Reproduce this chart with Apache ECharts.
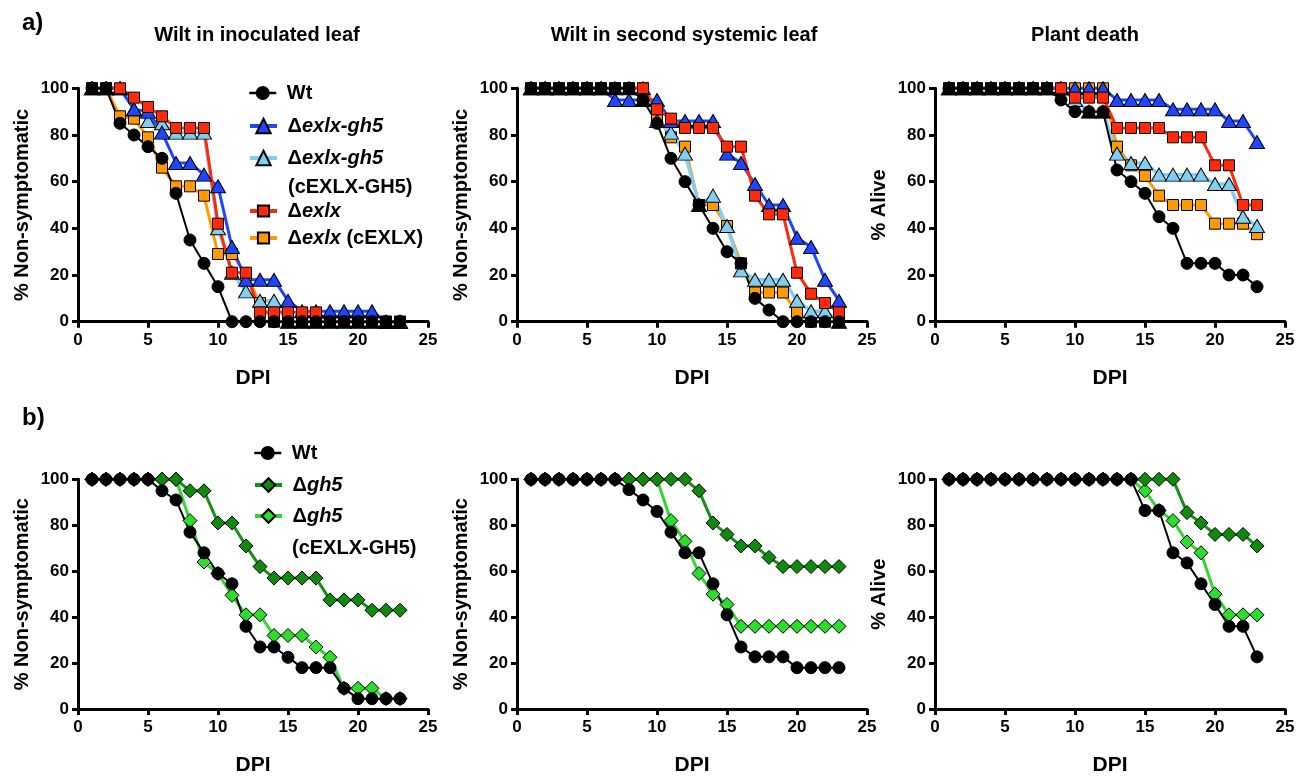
<!DOCTYPE html>
<html>
<head>
<meta charset="utf-8">
<script src="https://cdn.jsdelivr.net/npm/echarts@6/dist/echarts.min.js"></script>
<style>html,body{margin:0;padding:0;background:#fff}#c{width:1307px;height:777px}</style>
</head>
<body>
<div id="c"></div>
<script>
// ---------- DATA ----------
const days = [1,2,3,4,5,6,7,8,9,10,11,12,13,14,15,16,17,18,19,20,21,22,23];
const xTicks = [0,5,10,15,20,25];
const yTicks = [0,20,40,60,80,100];

// a) Wilt in inoculated leaf
const a1_wt      = [100,100,85,80,75,70,55,35,25,15,0,0,0,0,0,0,0,0,0,0,0,0,0];
const a1_exlxgh5 = [100,100,100,91,90,81,68,68,63,58,32,18,18,18,9,4.5,4.5,4.5,4.5,4.5,4.5,0,0];
const a1_exlxgh5c= [100,100,100,91,86,85,81,81,81,40,21,13,9,9,0,0,0,0,0,0,0,0,0];
const a1_exlx    = [100,100,100,96,92,88,83,83,83,42,21,21,4,4,4,4,4,0,0,0,0,0,0];
const a1_exlxc   = [100,100,88,87,79,66,58,58,54,29,29,20,8,0,0,0,0,0,0,0,0,0,0];
// a) Wilt in second systemic leaf
const a2_wt      = [100,100,100,100,100,100,100,100,95,85,70,60,50,40,30,25,10,5,0,0,0,0,0];
const a2_exlxgh5 = [100,100,100,100,100,100,95,95,95,95,86,86,86,86,72,68,59,50,50,36,32,18,9];
const a2_exlxgh5c= [100,100,100,100,100,100,100,100,100,86,81,72,50,54,41,22,18,18,18,9,4.5,4.5,0];
const a2_exlx    = [100,100,100,100,100,100,100,100,100,91,87,83,83,83,75,75,54,46,46,21,12,8,4];
const a2_exlxc   = [100,100,100,100,100,100,100,100,100,88,79,75,50,50,41,25,12.5,12.5,12.5,4,0,0,0];
// a) Plant death
const a3_wt      = [100,100,100,100,100,100,100,100,95,90,90,90,65,60,55,45,40,25,25,25,20,20,15];
const a3_exlxgh5 = [100,100,100,100,100,100,100,100,100,100,100,100,95,95,95,95,91,91,91,91,86,86,77];
const a3_exlxgh5c= [100,100,100,100,100,100,100,100,100,95,90,90,72,68,68,63,63,63,63,59,59,45,41];
const a3_exlx    = [100,100,100,100,100,100,100,100,100,96,96,96,83,83,83,83,79,79,79,67,67,50,50];
const a3_exlxc   = [100,100,100,100,100,100,100,100,100,100,100,100,75,67,62.5,54,50,50,50,42,42,42,37.5];
// b) Wilt in inoculated leaf
const b1_wt   = [100,100,100,100,100,95,91,77,68,59,54.5,36,27,27,22.5,18,18,18,9,4.5,4.5,4.5,4.5];
const b1_gh5  = [100,100,100,100,100,100,100,95,95,81,81,71,62,57,57,57,57,47.5,47.5,47.5,43,43,43];
const b1_gh5c = [100,100,100,100,100,100,100,82,64,59,49.5,41,41,32,32,32,27,22.5,9,9,9,4.5,4.5];
// b) Wilt in second systemic leaf
const b2_wt   = [100,100,100,100,100,100,100,95.5,91,86,77,68,68,54.5,41,27,22.7,22.7,22.7,18,18,18,18];
const b2_gh5  = [100,100,100,100,100,100,100,100,100,100,100,100,95,81,76,71,71,66,62,62,62,62,62];
const b2_gh5c = [100,100,100,100,100,100,100,100,100,100,82,73,59,50,45.5,36,36,36,36,36,36,36,36];
// b) Plant death
const b3_wt   = [100,100,100,100,100,100,100,100,100,100,100,100,100,100,86.4,86.4,68,63.6,54.5,45.5,36,36,22.7];
const b3_gh5  = [100,100,100,100,100,100,100,100,100,100,100,100,100,100,100,100,100,85.5,81,76,76,76,71];
const b3_gh5c = [100,100,100,100,100,100,100,100,100,100,100,100,100,100,95,86.4,82,72.7,68,50,41,41,41];

const panelTitles = ['Wilt in inoculated leaf','Wilt in second systemic leaf','Plant death'];
const yNames = ['% Non-symptomatic','% Non-symptomatic','% Alive','% Non-symptomatic','% Non-symptomatic','% Alive'];

// ---------- STYLE ----------
const FF = '"Liberation Sans", Arial, Helvetica, sans-serif';
const S = {
  'Wt':                    {color:'#000000', line:'#000000', w:2,   lw:2.5, symbol:'circle',   size:12},
  'Δexlx-gh5':             {color:'#1f46ff', line:'#1f46ff', w:3,   lw:4,   symbol:'triangle', size:[15,13]},
  'Δexlx-gh5 (cEXLX-GH5)': {color:'#80cff2', line:'#80cff2', w:3.5, lw:4,   symbol:'triangle', size:[15,13]},
  'Δexlx':                 {color:'#ff2a0a', line:'#ff2a0a', w:3,   lw:4,   symbol:'rect',     size:11},
  'Δexlx (cEXLX)':         {color:'#ff9a00', line:'#ff9a00', w:3,   lw:4,   symbol:'rect',     size:11},
  'Δgh5':                  {color:'#0f8a0f', line:'#168f16', w:3,   lw:4,   symbol:'diamond',  size:14},
  'Δgh5 (cEXLX-GH5)':      {color:'#2ddc2d', line:'#33d633', w:3,   lw:4,   symbol:'diamond',  size:14}
};

const lefts = [78, 517, 935];
const tops = [88.3, 479.3];
const heights = [233.4, 231.4];

const grids = [], xAxes = [], yAxes = [];
for (let r = 0; r < 2; r++) for (let c = 0; c < 3; c++) {
  const g = r*3 + c;
  grids.push({left: lefts[c], top: tops[r], width: 350, height: heights[r]});
  xAxes.push({
    gridIndex: g, type: 'value', min: 0, max: 25, interval: 5,
    axisLine: {lineStyle: {color:'#000', width:3}},
    axisTick: {length: 6, lineStyle: {color:'#000', width:3}},
    axisLabel: {margin: 10, fontSize: 17, fontWeight:'bold', color:'#000', fontFamily: FF},
    splitLine: {show:false},
    name: 'DPI', nameLocation: 'middle', nameGap: 46,
    nameTextStyle: {fontSize: 21, fontWeight:'bold', color:'#000', fontFamily: FF, verticalAlign:'top'}
  });
  yAxes.push({
    gridIndex: g, type: 'value', min: 0, max: 100, interval: 20,
    axisLine: {show:true, lineStyle: {color:'#000', width:3}},
    axisTick: {show:true, length: 6, lineStyle: {color:'#000', width:3}},
    axisLabel: {margin: 9, fontSize: 17, fontWeight:'bold', color:'#000', fontFamily: FF},
    splitLine: {show:false},
    name: yNames[g], nameLocation: 'middle', nameGap: 46,
    nameTextStyle: {fontSize: 20, fontWeight:'bold', color:'#000', fontFamily: FF}
  });
}

function mk(name, vals, wt, g) {
  const st = S[name];
  const data = vals.map((v, i) => {
    if (name !== 'Wt' && v === wt[i]) return {value: [days[i], v], itemStyle: {color:'#000'}};
    return [days[i], v];
  });
  return {
    type: 'line', name, xAxisIndex: g, yAxisIndex: g, data,
    symbol: st.symbol, symbolSize: st.size, showAllSymbol: true,
    lineStyle: {color: st.line, width: st.w},
    itemStyle: {color: st.color, borderColor:'#000', borderWidth: 1},
    emphasis: {disabled: true}, clip: false
  };
}

const series = [];
const aSets = [
  [a1_wt, a1_exlxgh5, a1_exlxgh5c, a1_exlx, a1_exlxc],
  [a2_wt, a2_exlxgh5, a2_exlxgh5c, a2_exlx, a2_exlxc],
  [a3_wt, a3_exlxgh5, a3_exlxgh5c, a3_exlx, a3_exlxc]
];
aSets.forEach((s, g) => {
  series.push(mk('Δexlx (cEXLX)', s[4], s[0], g));
  series.push(mk('Δexlx-gh5 (cEXLX-GH5)', s[2], s[0], g));
  series.push(mk('Δexlx-gh5', s[1], s[0], g));
  series.push(mk('Δexlx', s[3], s[0], g));
  series.push(mk('Wt', s[0], s[0], g));
});
const bSets = [[b1_wt, b1_gh5, b1_gh5c],[b2_wt, b2_gh5, b2_gh5c],[b3_wt, b3_gh5, b3_gh5c]];
bSets.forEach((s, k) => {
  const g = 3 + k;
  series.push(mk('Δgh5 (cEXLX-GH5)', s[2], s[0], g));
  series.push(mk('Δgh5', s[1], s[0], g));
  series.push(mk('Wt', s[0], s[0], g));
});

// legends
const legendLabel = {
  'Wt': '{n|Wt}',
  'Δexlx-gh5': '{n|Δ}{i|exlx-gh5}',
  'Δexlx-gh5 (cEXLX-GH5)': '{n|Δ}{i|exlx-gh5}',
  'Δexlx': '{n|Δ}{i|exlx}',
  'Δexlx (cEXLX)': '{n|Δ}{i|exlx}{n| (cEXLX)}',
  'Δgh5': '{n|Δ}{i|gh5}',
  'Δgh5 (cEXLX-GH5)': '{n|Δ}{i|gh5}'
};
const rich = {
  n: {fontSize: 20, fontWeight:'bold', color:'#000', fontFamily: FF},
  i: {fontSize: 20, fontWeight:'bold', fontStyle:'italic', color:'#000', fontFamily: FF}
};
function leg(name, left, cy, ih) {
  return {
    data: [name], left: left, top: cy - 12, orient:'vertical', padding: 0,
    itemWidth: 27, itemHeight: ih, itemGap: 0, selectedMode: false,
    lineStyle: {width: S[name].lw},
    formatter: n => ' ' + legendLabel[n],
    textStyle: {fontSize: 20, fontWeight:'bold', color:'#000', fontFamily: FF, rich: rich}
  };
}
const legends = [
  leg('Wt', 248, 95, 15),
  leg('Δexlx-gh5', 248, 128, 18),
  leg('Δexlx-gh5 (cEXLX-GH5)', 248, 160, 18),
  leg('Δexlx', 248, 213, 14),
  leg('Δexlx (cEXLX)', 248, 240, 14),
  leg('Wt', 253, 455, 15),
  leg('Δgh5', 253, 487, 17),
  leg('Δgh5 (cEXLX-GH5)', 253, 518, 17)
];

const txt = (t, x, y, size, align) => ({
  type: 'text', x: x, y: y, silent: true,
  style: {text: t, fill:'#000', font: 'bold ' + size + 'px ' + FF, align: align || 'center', verticalAlign: 'middle'}
});
const graphics = [
  txt('a)', 22, 23, 24, 'left'),
  txt('b)', 22, 418, 24, 'left'),
  txt(panelTitles[0], 257, 35, 20),
  txt(panelTitles[1], 684, 35, 20),
  txt(panelTitles[2], 1085, 35, 20),
  txt('(cEXLX-GH5)', 288, 187, 20, 'left'),
  txt('(cEXLX-GH5)', 292, 548, 20, 'left')
];

const chart = echarts.init(document.getElementById('c'), null, {renderer:'canvas'});
chart.setOption({
  animation: false,
  backgroundColor: '#fff',
  grid: grids, xAxis: xAxes, yAxis: yAxes,
  legend: legends,
  series: series,
  graphic: graphics
});
</script>
</body>
</html>
